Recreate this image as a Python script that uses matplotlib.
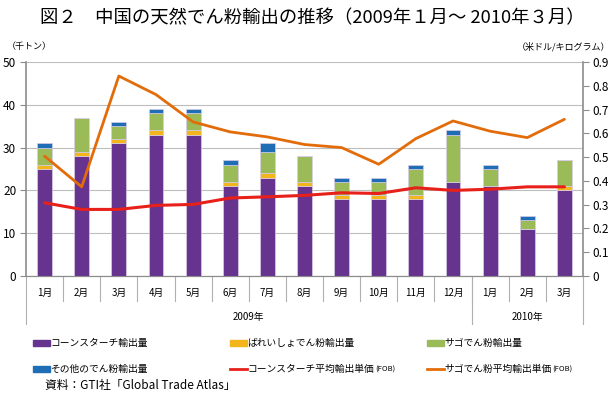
import numpy as np
import matplotlib
matplotlib.use('Agg')
import matplotlib.pyplot as plt
from matplotlib.patches import Rectangle
from matplotlib.lines import Line2D

plt.rcParams['font.family'] = ['Noto Sans CJK JP', 'DejaVu Sans']

months = ['1月', '2月', '3月', '4月', '5月', '6月', '7月', '8月', '9月', '10月',
          '11月', '12月', '1月', '2月', '3月']
years = ['2009年', '2010年']
year_counts = [12, 3]

# 輸出量 (千トン)
corn = [25, 28, 31, 33, 33, 21, 23, 21, 18, 18, 18, 22, 21, 11, 20]
potato = [1, 1, 1, 1, 1, 1, 1, 1, 1, 1, 1, 0, 0, 0, 1]
sago = [4, 8, 3, 4, 4, 4, 5, 6, 3, 3, 6, 11, 4, 2, 6]
other = [1, 0, 1, 1, 1, 1, 2, 0, 1, 1, 1, 1, 1, 1, 0]

# 平均輸出単価 (米ドル/キログラム)
corn_price = [0.308, 0.280, 0.280, 0.297, 0.301, 0.328, 0.333, 0.339, 0.350,
              0.347, 0.371, 0.360, 0.365, 0.375, 0.375]
sago_price = [0.504, 0.375, 0.841, 0.763, 0.648, 0.606, 0.585, 0.553, 0.540,
              0.470, 0.578, 0.652, 0.609, 0.582, 0.659]

labels = ['コーンスターチ輸出量', 'ばれいしょでん粉輸出量', 'サゴでん粉輸出量',
          'その他のでん粉輸出量', 'コーンスターチ平均輸出単価', 'サゴでん粉平均輸出単価']
colors = ['#66338f', '#f2b61c', '#9bbb59', '#1f6db5', '#e8201a', '#e36c0a']

W, H = 614, 398
fig = plt.figure(figsize=(W / 100, H / 100), dpi=100)
L, R, T, B = 26, 583, 62, 276
ax = fig.add_axes([L / W, 1 - B / H, (R - L) / W, (B - T) / H])
ax2 = ax.twinx()

x = np.arange(len(months))
bw = 0.4
bottom = np.zeros(len(months))
for vals, c in zip([corn, potato, sago, other], colors[:4]):
    ax.bar(x, vals, bw, bottom=bottom, color=c, edgecolor='#d9cde6', linewidth=0.5, zorder=3)
    bottom += np.array(vals)

ax2.plot(x, corn_price, color=colors[4], lw=2.2, solid_capstyle='round')
ax2.plot(x, sago_price, color=colors[5], lw=2.0, solid_capstyle='round')

ax.set_xlim(-0.5, len(months) - 0.5)
ax.set_ylim(0, 50)
ax2.set_ylim(0, 0.9)
ax.set_yticks(range(0, 51, 10))
ax2.set_yticks(np.arange(0, 0.91, 0.1))
ax2.set_yticklabels(['0'] + ['%.1f' % v for v in np.arange(0.1, 0.91, 0.1)])
ax.grid(axis='y', color='#bdbdbd', lw=0.8, zorder=0)
ax.set_axisbelow(True)
ax.set_xticks([])

for a in (ax, ax2):
    a.spines['top'].set_visible(False)
    for s in ('left', 'right', 'bottom'):
        a.spines[s].set_color('#8c8c8c')
    a.tick_params(axis='y', direction='out', length=4, width=0.8, color='#8c8c8c',
                  labelsize=8.5, pad=3)
ax.spines['right'].set_visible(False)
ax2.spines['left'].set_visible(False)
ax2.spines['right'].set_linewidth(1.2)
ax.spines['left'].set_linewidth(1.2)

# category axis (months and years)
tr = ax.get_xaxis_transform()
for i, m in enumerate(months):
    ax.text(i, -0.08, m, transform=tr, ha='center', va='center', fontsize=7)
for i in range(1, len(months)):
    ax.plot([i - 0.5, i - 0.5], [0, -0.115], transform=tr, color='#b0b0b0', lw=0.8, clip_on=False)
edges = [-0.5]
for n in year_counts:
    edges.append(edges[-1] + n)
for e in edges:
    ax.plot([e, e], [0, -0.225], transform=tr, color='#b0b0b0', lw=0.8, clip_on=False)
for k, yname in enumerate(years):
    ax.text((edges[k] + edges[k + 1]) / 2, -0.19, yname, transform=tr,
            ha='center', va='center', fontsize=7)

fig.text(312 / W, 1 - 18 / H, '図２　中国の天然でん粉輸出の推移（2009年１月～ 2010年３月）',
         ha='center', va='center', fontsize=13.2)
fig.text(7 / W, 1 - 47 / H, '（千トン）', ha='left', va='center', fontsize=6.5)
fig.text(610 / W, 1 - 47 / H, '（米ドル/キログラム）', ha='right', va='center', fontsize=6.5)

# legend
renderer = fig.canvas.get_renderer()
cols = [33, 230, 427]
rows = [343, 369]
for k, (lab, c) in enumerate(zip(labels, colors)):
    cx = cols[k % 3]
    cy = rows[k // 3]
    if k < 4:
        fig.add_artist(Rectangle((cx / W, 1 - (cy + 3) / H), 17 / W, 6 / H,
                                 transform=fig.transFigure, color=c))
    else:
        fig.add_artist(Line2D([cx / W, (cx + 17) / W], [1 - cy / H] * 2,
                              transform=fig.transFigure, color=c, lw=2))
    t = fig.text((cx + 17) / W, 1 - cy / H, lab, ha='left', va='center', fontsize=7)
    if k >= 4:
        ext = t.get_window_extent(renderer)
        fig.text(ext.x1 / W + 1 / W, 1 - (cy + 0.5) / H, '(FOB)', ha='left', va='center', fontsize=5.5)

fig.text(45 / W, 1 - 386 / H, '資料：GTI社「Global Trade Atlas」', ha='left', va='center', fontsize=8.5)

fig.savefig('out.png', dpi=100)
